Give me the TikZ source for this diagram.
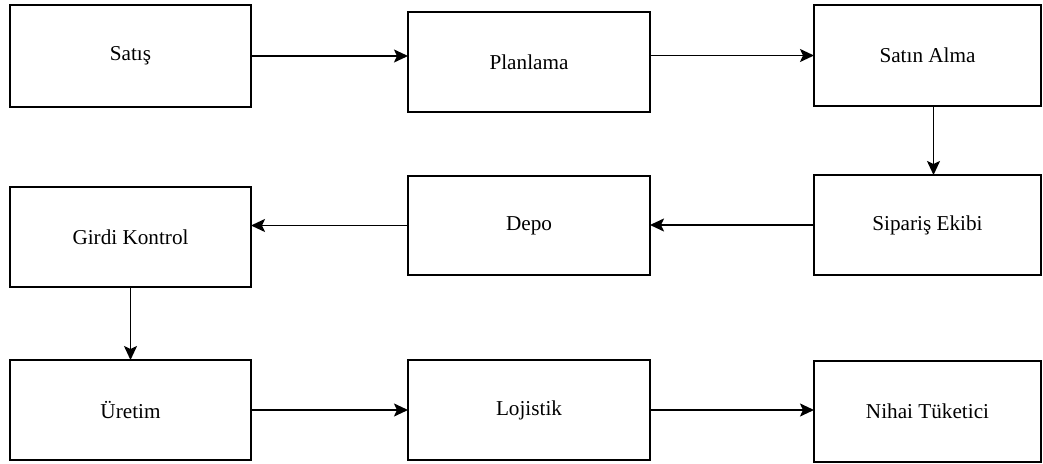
\documentclass[tikz,border=0pt]{standalone}
\usepackage{fontspec}
\setmainfont{Liberation Serif}
\usetikzlibrary{arrows.meta}

\tikzset{
  box/.style={draw, line width=1pt, inner sep=0pt, outer sep=0pt,
    font=\fontsize{10.6}{12}\selectfont},
  link/.style={line width=0.9pt, -{Stealth[length=7pt,width=6.5pt,inset=1.5pt]}}
}

\begin{document}
\begin{tikzpicture}[x=0.5pt, y=-0.5pt]
    \useasboundingbox (0,0) rectangle (1043,464);

    % First row
    \node[box, minimum width=120.5pt, minimum height=51pt] (satis) at (130.5,56) {Satış};
    \node[box, minimum width=121pt, minimum height=50pt] (planlama) at (529,62) {Planlama};
    \node[box, minimum width=113.5pt, minimum height=50.5pt] (satinalma) at (927.5,55.5) {Satın Alma};

    % Second row
    \node[box, minimum width=120.5pt, minimum height=50pt] (girdi) at (130.5,237) {Girdi Kontrol};
    \node[box, minimum width=121pt, minimum height=49.5pt] (depo) at (529,225.5) {Depo};
    \node[box, minimum width=113.5pt, minimum height=50pt] (siparis) at (927.5,225) {Sipariş Ekibi};

    % Third row
    \node[box, minimum width=120.5pt, minimum height=50pt] (uretim) at (130.5,410) {Üretim};
    \node[box, minimum width=121pt, minimum height=50pt] (lojistik) at (529,410) {Lojistik};
    \node[box, minimum width=113.5pt, minimum height=50.5pt] (nihai) at (927.5,411.5) {Nihai Tüketici};

    % Flow
    \draw[link] (satis.east) -- (satis.east -| planlama.west);
    \draw[link] (satinalma.west -| planlama.east) -- (satinalma.west);
    \draw[link] ([xshift=3pt]satinalma.south) -- ([xshift=3pt]siparis.north);
    \draw[link] (siparis.west) -- (siparis.west -| depo.east);
    \draw[link] (depo.west) -- (depo.west -| girdi.east);
    \draw[link] (girdi.south) -- (uretim.north);
    \draw[link] (uretim.east) -- (lojistik.west);
    \draw[link] (lojistik.east) -- (lojistik.east -| nihai.west);
\end{tikzpicture}
\end{document}
